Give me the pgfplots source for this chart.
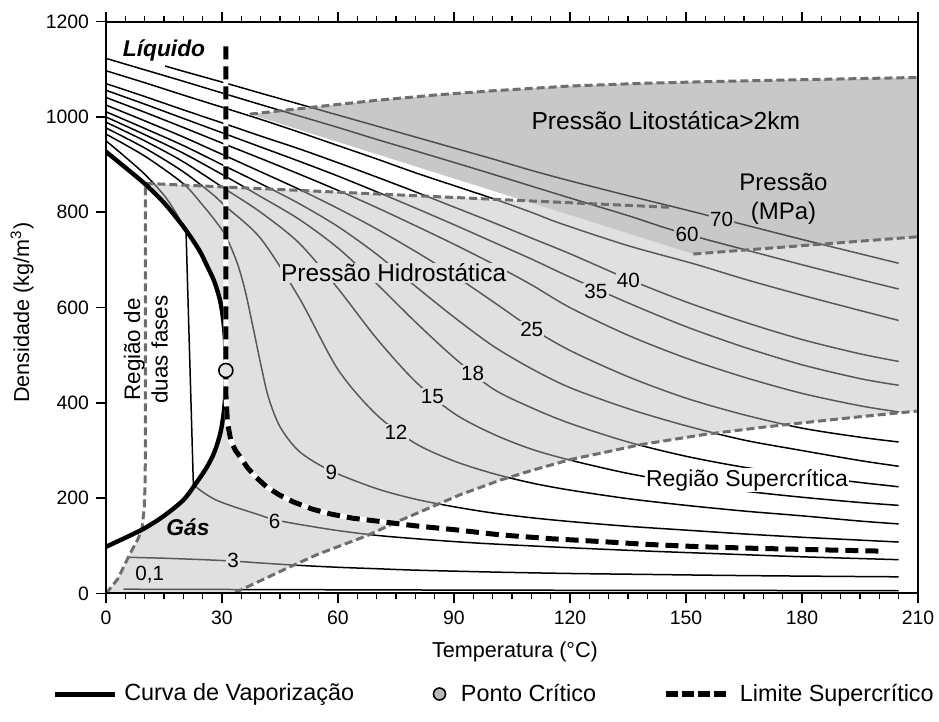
\documentclass[border=0pt]{standalone}
\usepackage{fontspec}
\setmainfont{Liberation Sans}
\usepackage{pgfplots}
\pgfplotsset{compat=1.18}
\definecolor{hydrofill}{gray}{0.745}
\definecolor{lithofill}{gray}{0.588}
\definecolor{hydro}{gray}{0.88}
\definecolor{litho}{gray}{0.786}
\definecolor{dgray}{gray}{0.43}
\tikzset{
  iso/.style={black, line width=0.75pt, smooth, tension=0.5},
  bnd/.style={dgray, line width=1.5pt, dash pattern=on 4pt off 2pt},
  lab/.style={font=\fontsize{10.3}{12}\selectfont, inner sep=0.6pt},
}
\begin{document}
\begin{tikzpicture}
\begin{axis}[
  scale only axis, width=406pt, height=285.9pt,
  xmin=0, xmax=210, ymin=0, ymax=1200,
  xtick={0,30,...,210}, ytick={0,200,...,1200},
  minor x tick num=5,
  tick align=outside, xtick pos=both, ytick pos=left,
  major tick length=5pt, minor tick length=3pt,
  tick style={black, line width=0.8pt},
  axis line style={black, line width=1pt},
  axis on top,
  /pgf/number format/assume math mode=true,
  /pgf/number format/1000 sep={},
  ticklabel style={font=\fontsize{9.7}{11}\selectfont},
  xlabel={Temperatura (°C)},
  ylabel={Densidade (kg/m\textsuperscript{3})},
  label style={font=\fontsize{10.8}{13}\selectfont},
  x label style={at={(axis description cs:0.5037,-0.1023)}, anchor=center},
  y label style={at={(axis description cs:-0.1034,0.491)}, anchor=center},
  legend columns=3,
  legend cell align=left,
  legend style={at={(axis description cs:-0.0665,-0.1758)}, anchor=west, draw=none, fill=none,
    inner sep=0pt, column sep=0pt, nodes={inner sep=0pt},
    font=\fontsize{11.7}{14}\selectfont},
]
\coordinate (O) at (rel axis cs:0,0);
% legend
\addlegendimage{legend image code/.code={\draw[black, line width=2.5pt] (0pt,0pt) -- (30pt,0pt); \path (34.5pt,0pt);}}
\addlegendentry{Curva de Vaporização}
\addlegendimage{legend image code/.code={\path (-39pt,0pt) (14pt,0pt); \draw[black, line width=0.8pt, fill=gray!55] (3.5pt,0pt) circle (3pt);}}
\addlegendentry{Ponto Crítico}
\addlegendimage{legend image code/.code={\path (-34.5pt,0pt) (37pt,0pt); \draw[black, line width=3pt, dash pattern=on 6pt off 2pt] (0pt,0pt) -- (30pt,0pt);}}
\addlegendentry{Limite Supercrítico}

% isobars (MPa)
\addplot[iso] coordinates {(15.3,1107) (20,1096) (31,1071) (40,1050) (50,1027) (60,1004) (70,981) (80,958) (90,935) (100,912) (110,888) (120,866) (135,835) (150,805) (165,774) (180,743) (195,713) (205,693)};
\addplot[iso] coordinates {(0,1123) (10,1099) (20,1075) (31,1048) (40,1026) (50,1002) (60,978) (70,953) (80,929) (91.5,901) (100,880) (110,855) (120,830) (135,793) (147.6,760) (165,722) (180,690) (195,659) (205,639)};
\addplot[iso] coordinates {(0,1097) (10,1072) (20,1046) (31,1018) (40,995) (50,968) (60,940) (70,912) (80,883) (90,856) (100,829) (110,800) (117.4,777) (135,730) (152,692) (165,660) (180,626) (195,594) (205,573)};
\addplot[iso] coordinates {(0,1070) (10,1043) (20,1015) (31,985) (40,960) (50,933) (60,904) (70,874) (80,843) (90,811) (100,779) (110,746) (120,713) (135,660) (150,612) (165,570) (180,533) (195,503) (205,487)};
\addplot[iso] coordinates {(0,1056) (10,1027) (20,997) (31,964) (40,937) (50,907) (60,876) (70,843) (80,809) (90,774) (100,738) (110,702) (120,664) (135,610) (150,560) (165,517) (180,480) (195,451) (205,437)};
\addplot[iso] coordinates {(0,1041) (10,1010) (20,978) (31,942) (40,913) (50,880) (60,846) (70,810) (80,772) (90,733) (100,692) (110,648) (120,600) (135,542) (150,494) (165,454) (180,420) (195,394) (205,381)};
\addplot[iso] coordinates {(0,1025) (10,992) (20,958) (31,918) (40,885) (50,848) (60,808) (70,765) (80,718) (90,668) (100,613) (110,557) (120,510) (135,455) (150,410) (165,375) (180,347) (195,328) (205,318)};
\addplot[iso] coordinates {(0,1011) (10,976) (20,940) (31,896) (40,860) (50,818) (60,770) (70,712) (80,645) (90,580) (100,520) (110,472) (120,432) (135,388) (150,352) (165,322) (180,300) (195,279) (205,267)};
\addplot[iso] coordinates {(0,1000) (10,963) (20,924) (31,875) (40,833) (50,785) (60,725) (70,650) (80,570) (90,495) (100,430) (110,390) (120,357) (135,318) (150,288) (165,265) (180,248) (195,233) (205,224)};
\addplot[iso] coordinates {(0,989) (10,950) (20,906) (31,848) (40,800) (50,735) (60,640) (70,535) (80,445) (90,378) (100,335) (110,303) (120,280) (135,252) (150,231) (165,215) (180,202) (195,191) (205,185)};
\addplot[iso] coordinates {(0,977) (10,935) (20,885) (28,835) (31,812) (40,745) (50,620) (60,470) (70,375) (80,315) (90,278) (100,252) (110,232) (120,217) (135,199) (150,185) (165,173) (180,163) (195,152) (205,146)};
\addplot[iso] coordinates {(0,964) (10,918) (20,860) (25,815) (28,785) (31,750) (34,692) (36,635) (38,560) (40,482) (42,412) (45,350) (50,298) (58,258) (70,220) (80,198) (90,182) (100,169) (110,159) (120,151) (135,141) (150,133) (165,125) (180,118) (195,112) (205,108)};
\addplot[iso] coordinates {(0,950) (5,916) (10,880) (15,836) (18,800) (20.7,760)};
\addplot[black, line width=0.75pt] coordinates {(20.7,760) (22.6,228)};
\addplot[iso] coordinates {(22.6,228) (25,213) (28,198) (31,188) (35,177) (40,164) (43.5,155) (50,145) (60,132) (70,122) (80,115) (90,109) (100,104) (120,96) (140,89) (160,83) (180,77) (205,71)};
\addplot[iso] coordinates {(5.8,76) (15,74) (25,71) (33,68) (40,64) (50,59) (60,55) (70,52) (80,49) (100,45) (120,42) (140,40) (160,38) (180,36.5) (205,35)};
\addplot[iso] coordinates {(4.5,9) (50,8) (100,7) (150,6.5) (205,6)};

% regions (translucent so the isobars show through in grey)
\addplot[draw=none, fill=hydrofill, fill opacity=0.47] coordinates {(10.2,860.7) (108.1,824) (151.9,712.4) (210,748.7) (210,383) (195,371) (180,358) (170,349) (155,334) (138,312) (130,298) (120,281) (110,258) (102,238) (91.5,207) (76,153) (67.4,121) (55,83) (47.6,56) (40,27) (33.4,2) (33.4,0) (0,0) (3,30) (6,80) (8.3,115) (9.3,134) (10,137) (15,163) (20,196) (23,228) (26,264) (28,296) (29.5,334) (30.3,370) (30.8,410) (31,468) (30.8,530) (30.3,575) (29.5,615) (28,655) (26,690) (24,722) (20,770) (15,820) (10.2,860.7)};
\addplot[draw=none, fill=lithofill, fill opacity=0.52] coordinates {(37.2,1006) (45,1013) (55,1022) (70,1035) (85,1046) (100,1055) (120,1065) (140,1071) (160,1075) (185,1079) (210,1083) (210,748.7) (151.9,712.4) (37.2,1006)};

% dashed boundaries
\addplot[bnd] coordinates {(0,0) (3,30) (6,80) (8.3,115) (9.3,135) (9.9,180) (10.1,230) (10.2,300) (10.2,860.7)};
\addplot[bnd] coordinates {(10.2,860.7) (145.8,810.5)};
\addplot[bnd] coordinates {(37.2,1006) (45,1013) (55,1022) (70,1035) (85,1046) (100,1055) (120,1065) (140,1071) (160,1075) (185,1079) (210,1083)};
\addplot[bnd] coordinates {(151.9,712.4) (210,748.7)};
\addplot[bnd] coordinates {(33.4,2) (40,27) (47.6,56) (55,83) (67.4,121) (76,153) (91.5,207) (102,238) (110,258) (120,281) (130,298) (138,312) (155,334) (170,349) (180,358) (195,371) (210,383)};

% vaporization curve
\addplot[black, line width=2.2pt, smooth, tension=0.5] coordinates {(0,98) (5,117) (10,137) (15,163) (20,196) (23,228) (26,264) (28,296) (29.5,334) (30.3,370) (30.8,410) (31,468) (30.8,530) (30.3,575) (29.5,615) (28,655) (26,690) (24,722) (20,770) (15,820) (10,860) (5,894) (0,927)};

% supercritical limit
\addplot[white, line width=2.5pt] coordinates {(31,1148) (31,468) (31,420) (31.4,360) (32.3,320) (33.5,300) (34.5,289) (36.5,265) (38.8,244) (41.5,224) (44.8,207) (48.5,192) (53.4,177) (58,167) (63.8,158) (70,152) (80,142) (90,134) (102,123) (115,115) (128,109) (140,103) (154,98) (167,95) (180,92.5) (200,89)};
\addplot[black, line width=2.5pt, dash pattern=on 6.5pt off 3.5pt] coordinates {(31,1148) (31,468) (31,420) (31.4,360) (32.3,320) (33.5,300) (34.5,289) (36.5,265) (38.8,244) (41.5,224) (44.8,207) (48.5,192) (53.4,177) (58,167) (63.8,158) (70,152) (80,142) (90,134) (102,123) (115,115) (128,109) (140,103) (154,98) (167,95) (180,92.5) (200,89)};

% critical point
\addplot[only marks, mark=*, mark size=3.5pt, mark options={fill=gray!20, draw=black, line width=0.8pt}] coordinates {(31,468)};

% isobar labels
\node[lab, fill=litho] at (axis cs:159.2,786) {70};
\node[lab, fill=litho] at (axis cs:150.3,753) {60};
\node[lab, fill=hydro] at (axis cs:135.1,658) {40};
\node[lab, fill=hydro] at (axis cs:126.7,634) {35};
\node[lab, fill=hydro] at (axis cs:110.1,555) {25};
\node[lab, fill=hydro] at (axis cs:94.8,462) {18};
\node[lab, fill=hydro] at (axis cs:84.4,414) {15};
\node[lab, fill=hydro] at (axis cs:75,338) {12};
\node[lab, fill=hydro] at (axis cs:58.3,255) {9};
\node[lab, fill=hydro] at (axis cs:43.6,152) {6};
\node[lab, fill=hydro] at (axis cs:32.9,69) {3};
\node[lab] at (axis cs:11.3,40) {0,1};

% region texts
\node[font=\fontsize{11.4}{13}\selectfont\bfseries\itshape] at (axis cs:15,1140) {Líquido};
\node[font=\fontsize{11.4}{13}\selectfont\bfseries\itshape] at (axis cs:21.2,138) {Gás};
\node[font=\fontsize{12.3}{14}\selectfont] at (axis cs:144.8,991.6) {Pressão Litostática>2km};
\node[font=\fontsize{12}{14.75}\selectfont, align=center] at (axis cs:175.2,828) {Pressão\\(MPa)};
\node[font=\fontsize{12.2}{14}\selectfont, fill=hydro, inner sep=0.5pt] at (axis cs:74.4,673) {Pressão Hidrostática};
\node[font=\fontsize{11.5}{14}\selectfont, fill=white, inner sep=0.5pt] at (axis cs:165.8,237.7) {Região Supercrítica};
\node[font=\fontsize{11.2}{13.75}\selectfont, align=center, rotate=90] at (axis cs:10.3,512) {Região de\\duas fases};
\end{axis}
\pgfresetboundingbox
\path[use as bounding box] (O) ++(-53pt,-64.25pt) rectangle ++(469.5pt,361pt);
\end{tikzpicture}
\end{document}
